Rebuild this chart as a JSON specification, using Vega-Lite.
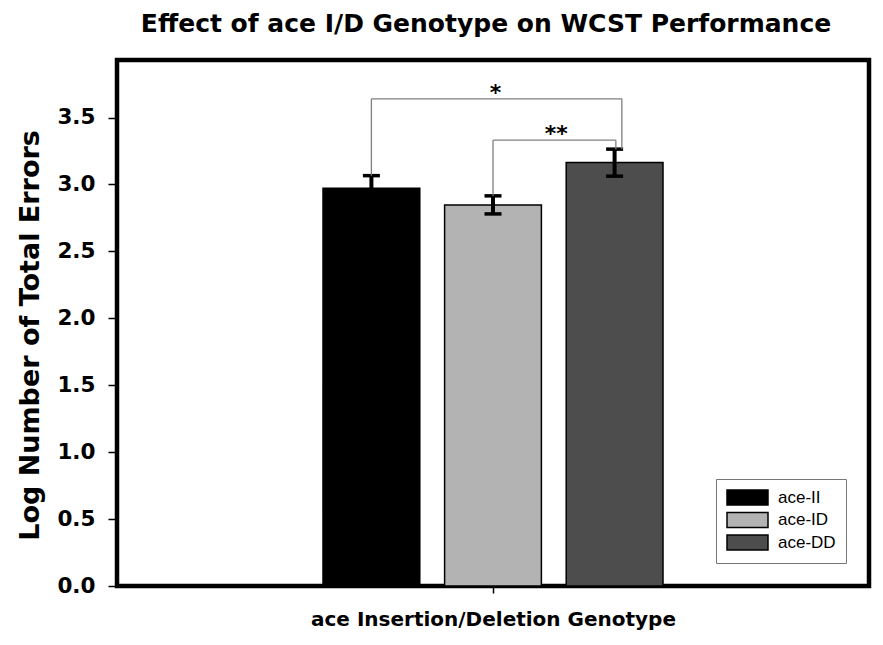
{
  "$schema": "https://vega.github.io/schema/vega-lite/v6.json",
  "width": 752,
  "height": 526,
  "autosize": {"type": "none"},
  "padding": {"left": 117, "top": 60, "right": 14, "bottom": 59},
  "background": "white",
  "title": {
    "text": "Effect of ace I/D Genotype on WCST Performance",
    "font": "DejaVu Sans",
    "fontSize": 25,
    "fontWeight": "bold",
    "color": "black",
    "anchor": "middle",
    "frame": "group",
    "baseline": "alphabetic",
    "offset": 3,
    "dx": -7
  },
  "datasets": {
    "bars": [
      {"genotype": "ace-II", "mean": 2.972, "lo": 2.878, "hi": 3.066},
      {"genotype": "ace-ID", "mean": 2.847, "lo": 2.780, "hi": 2.915},
      {"genotype": "ace-DD", "mean": 3.164, "lo": 3.062, "hi": 3.264}
    ],
    "brackets": [
      {"id": "a", "from": "ace-II", "to": "ace-DD", "mid": "ace-ID", "y": 3.640, "fromY": 3.066, "toY": 3.264, "label": "*"},
      {"id": "b", "from": "ace-ID", "to": "ace-DD", "mid": "ace-ID", "y": 3.331, "fromY": 2.915, "toY": 3.264, "label": "**"}
    ]
  },
  "config": {
    "view": {"stroke": "black", "strokeWidth": 4.5},
    "axis": {"domain": false, "grid": false, "tickColor": "black", "labelColor": "black", "titleColor": "black"},
    "legend": {
      "orient": "bottom-right",
      "offset": 23,
      "padding": 10,
      "strokeColor": "#777777",
      "strokeWidth": 1,
      "fillColor": "white",
      "labelFont": "Liberation Sans",
      "labelFontSize": 17,
      "labelColor": "black",
      "rowPadding": 1.5,
      "labelOffset": 22,
      "symbolOffset": 13,
      "symbolType": "M-2.733,-1H2.733V1H-2.733Z",
      "symbolSize": 225,
      "symbolStrokeColor": "black",
      "symbolStrokeWidth": 1.5,
      "symbolOpacity": 1,
      "symbolFillColor": "black"
    }
  },
  "layer": [
    {
      "data": {"name": "bars"},
      "mark": {"type": "bar", "stroke": "black", "strokeWidth": 1.5, "opacity": 1},
      "encoding": {
        "x": {
          "field": "genotype", "type": "nominal", "title": "ace Insertion/Deletion Genotype",
          "scale": {"type": "band", "domain": ["ace-II", "ace-ID", "ace-DD"], "range": [206, 546], "paddingInner": 0.204, "paddingOuter": 0},
          "axis": {
            "titleFont": "DejaVu Sans", "titleFontSize": 20, "titleFontWeight": "bold",
            "titlePadding": 16,
            "labels": false, "values": ["ace-ID"], "tickSize": 7, "tickWidth": 1.5
          }
        },
        "y": {
          "field": "mean", "type": "quantitative", "title": "Log Number of Total Errors",
          "scale": {"domain": [0, 3.93], "nice": false, "zero": true},
          "axis": {
            "titleFont": "DejaVu Sans", "titleFontSize": 27, "titleFontWeight": "bold",
            "titlePadding": 12, "titleY": 275,
            "values": [0, 0.5, 1, 1.5, 2, 2.5, 3, 3.5], "format": ".1f",
            "labelFont": "DejaVu Sans", "labelFontSize": 21.5, "labelFontWeight": "bold",
            "labelPadding": 13, "tickSize": 9, "tickWidth": 1.5
          }
        },
        "fill": {
          "field": "genotype", "type": "nominal",
          "scale": {"domain": ["ace-II", "ace-ID", "ace-DD"], "range": ["#000000", "#b3b3b3", "#4d4d4d"]},
          "legend": {"title": null}
        }
      }
    },
    {
      "data": {"name": "bars"},
      "mark": {"type": "rule", "color": "black", "strokeWidth": 4},
      "encoding": {
        "x": {"field": "genotype", "type": "nominal", "title": "ace Insertion/Deletion Genotype", "scale": {"type": "band", "domain": ["ace-II", "ace-ID", "ace-DD"], "range": [206, 546], "paddingInner": 0.204, "paddingOuter": 0}},
        "y": {"field": "lo", "type": "quantitative", "title": "Log Number of Total Errors"},
        "y2": {"field": "hi", "title": "Log Number of Total Errors"}
      }
    },
    {
      "data": {"name": "bars"},
      "mark": {"type": "tick", "color": "black", "size": 17, "thickness": 3.5, "opacity": 1},
      "encoding": {
        "x": {"field": "genotype", "type": "nominal", "title": "ace Insertion/Deletion Genotype", "scale": {"type": "band", "domain": ["ace-II", "ace-ID", "ace-DD"], "range": [206, 546], "paddingInner": 0.204, "paddingOuter": 0}},
        "y": {"field": "lo", "type": "quantitative", "title": "Log Number of Total Errors"}
      }
    },
    {
      "data": {"name": "bars"},
      "mark": {"type": "tick", "color": "black", "size": 17, "thickness": 3.5, "opacity": 1},
      "encoding": {
        "x": {"field": "genotype", "type": "nominal", "title": "ace Insertion/Deletion Genotype", "scale": {"type": "band", "domain": ["ace-II", "ace-ID", "ace-DD"], "range": [206, 546], "paddingInner": 0.204, "paddingOuter": 0}},
        "y": {"field": "hi", "type": "quantitative", "title": "Log Number of Total Errors"}
      }
    },
    {
      "data": {"name": "brackets"},
      "transform": [{"filter": "datum.id === 'a'"}],
      "layer": [
        {
          "mark": {"type": "rule", "color": "#7f7f7f", "strokeWidth": 1.3},
          "encoding": {
            "x": {"field": "from", "type": "nominal", "title": "ace Insertion/Deletion Genotype", "scale": {"type": "band", "domain": ["ace-II", "ace-ID", "ace-DD"], "range": [206, 546], "paddingInner": 0.204, "paddingOuter": 0}},
            "x2": {"field": "to", "bandPosition": 0.575, "title": "ace Insertion/Deletion Genotype"},
            "y": {"field": "y", "type": "quantitative", "title": "Log Number of Total Errors"}
          }
        },
        {
          "mark": {"type": "rule", "color": "#7f7f7f", "strokeWidth": 1.3},
          "encoding": {
            "x": {"field": "from", "type": "nominal", "title": "ace Insertion/Deletion Genotype", "scale": {"type": "band", "domain": ["ace-II", "ace-ID", "ace-DD"], "range": [206, 546], "paddingInner": 0.204, "paddingOuter": 0}},
            "y": {"field": "fromY", "type": "quantitative", "title": "Log Number of Total Errors"},
            "y2": {"field": "y", "title": "Log Number of Total Errors"}
          }
        },
        {
          "mark": {"type": "rule", "color": "#7f7f7f", "strokeWidth": 1.3},
          "encoding": {
            "x": {"field": "to", "type": "nominal", "bandPosition": 0.575, "title": "ace Insertion/Deletion Genotype", "scale": {"type": "band", "domain": ["ace-II", "ace-ID", "ace-DD"], "range": [206, 546], "paddingInner": 0.204, "paddingOuter": 0}},
            "y": {"field": "toY", "type": "quantitative", "title": "Log Number of Total Errors"},
            "y2": {"field": "y", "title": "Log Number of Total Errors"}
          }
        },
        {
          "mark": {"type": "text", "font": "DejaVu Sans", "fontSize": 22, "fontWeight": "bold", "color": "black", "baseline": "alphabetic", "align": "center", "dy": 1},
          "encoding": {
            "x": {"field": "mid", "type": "nominal", "bandPosition": 0.527, "title": "ace Insertion/Deletion Genotype", "scale": {"type": "band", "domain": ["ace-II", "ace-ID", "ace-DD"], "range": [206, 546], "paddingInner": 0.204, "paddingOuter": 0}},
            "y": {"field": "y", "type": "quantitative", "title": "Log Number of Total Errors"},
            "text": {"field": "label"}
          }
        }
      ]
    },
    {
      "data": {"name": "brackets"},
      "transform": [{"filter": "datum.id === 'b'"}],
      "layer": [
        {
          "mark": {"type": "rule", "color": "#7f7f7f", "strokeWidth": 1.3},
          "encoding": {
            "x": {"field": "from", "type": "nominal", "title": "ace Insertion/Deletion Genotype", "scale": {"type": "band", "domain": ["ace-II", "ace-ID", "ace-DD"], "range": [206, 546], "paddingInner": 0.204, "paddingOuter": 0}},
            "x2": {"field": "to", "bandPosition": 0.513, "title": "ace Insertion/Deletion Genotype"},
            "y": {"field": "y", "type": "quantitative", "title": "Log Number of Total Errors"}
          }
        },
        {
          "mark": {"type": "rule", "color": "#7f7f7f", "strokeWidth": 1.3},
          "encoding": {
            "x": {"field": "from", "type": "nominal", "title": "ace Insertion/Deletion Genotype", "scale": {"type": "band", "domain": ["ace-II", "ace-ID", "ace-DD"], "range": [206, 546], "paddingInner": 0.204, "paddingOuter": 0}},
            "y": {"field": "fromY", "type": "quantitative", "title": "Log Number of Total Errors"},
            "y2": {"field": "y", "title": "Log Number of Total Errors"}
          }
        },
        {
          "mark": {"type": "rule", "color": "#7f7f7f", "strokeWidth": 1.3},
          "encoding": {
            "x": {"field": "to", "type": "nominal", "bandPosition": 0.513, "title": "ace Insertion/Deletion Genotype", "scale": {"type": "band", "domain": ["ace-II", "ace-ID", "ace-DD"], "range": [206, 546], "paddingInner": 0.204, "paddingOuter": 0}},
            "y": {"field": "toY", "type": "quantitative", "title": "Log Number of Total Errors"},
            "y2": {"field": "y", "title": "Log Number of Total Errors"}
          }
        },
        {
          "mark": {"type": "text", "font": "DejaVu Sans", "fontSize": 22, "fontWeight": "bold", "color": "black", "baseline": "alphabetic", "align": "center", "dy": 1},
          "encoding": {
            "x": {"field": "mid", "type": "nominal", "bandPosition": 1.154, "title": "ace Insertion/Deletion Genotype", "scale": {"type": "band", "domain": ["ace-II", "ace-ID", "ace-DD"], "range": [206, 546], "paddingInner": 0.204, "paddingOuter": 0}},
            "y": {"field": "y", "type": "quantitative", "title": "Log Number of Total Errors"},
            "text": {"field": "label"}
          }
        }
      ]
    }
  ]
}
